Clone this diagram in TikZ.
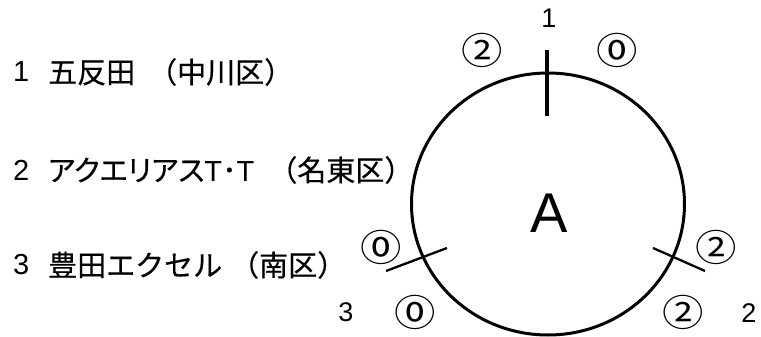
\documentclass[tikz,border=0pt]{standalone}
\usepackage{fontspec}
\setmainfont{Liberation Sans}
\newfontfamily\jp[FakeBold=0.4]{Noto Sans CJK JP}
\newfontfamily\jpp[FakeBold=0.4,RawFeature=+palt]{Noto Sans CJK JP}
\newfontfamily\jpc{Noto Sans CJK JP}
\usetikzlibrary{shapes.geometric}

\begin{document}
\begin{tikzpicture}[x=1pt,y=-1pt,
	station/.style={anchor=west,inner sep=0,font=\fontsize{29}{32}\selectfont},
	ringnum/.style={inner sep=0,xscale=1.12,transform shape,font=\jpc\fontsize{37}{40}\selectfont},
	num/.style={inner sep=0,font=\fontsize{27}{30}\selectfont},
	tick/.style={line width=2.3pt}]
	\useasboundingbox (0,0) rectangle (761,337);
	% list of the three places
	\node[station] (k1) at (13,72) {1};
	\node[station] (s1) at (48,72) {\jp 五反田\hspace{13pt}（中川区）};
	\node[station] (k2) at (13,170) {2};
	\node[station] (s2) at (48,170) {\jpp アクエリアス\rmfamily T\jp ･\rmfamily T\hspace{14pt}\jp （名東区）};
	\node[station] (k3) at (13,265) {3};
	\node[station] (s3) at (48,265) {\jp 豊田エクセル\hspace{8pt}（南区）};
	% the ring
	\node[draw,ellipse,line width=3pt,inner sep=0,minimum width=273pt,minimum height=262pt] (ring) at (548,204) {};
	\node[inner sep=0,font=\fontsize{56}{60}\selectfont] (A) at (549,213) {A};
	\coordinate (t1a) at (547,50);
	\coordinate (t1b) at (547,116);
	\coordinate (t3a) at (386,271);
	\coordinate (t3b) at (447,248);
	\coordinate (t2a) at (653,248);
	\coordinate (t2b) at (705,271);
	\draw[tick,line width=3.3pt] (t1a) -- (t1b);
	\draw[tick] (t3a) -- (t3b);
	\draw[tick] (t2a) -- (t2b);
	% numbers round the ring
	\node[num] (n1) at (549,18) {1};
	\node[num] (n2) at (749,313) {2};
	\node[num] (n3) at (346,312) {3};
	\node[ringnum] (m1l) at (482,50) {②};
	\node[ringnum] (m1r) at (617,50) {⓪};
	\node[ringnum] (m2u) at (716,247) {②};
	\node[ringnum] (m2d) at (683,312) {②};
	\node[ringnum] (m3u) at (381,247) {⓪};
	\node[ringnum] (m3d) at (415,312) {⓪};
\end{tikzpicture}
\end{document}
